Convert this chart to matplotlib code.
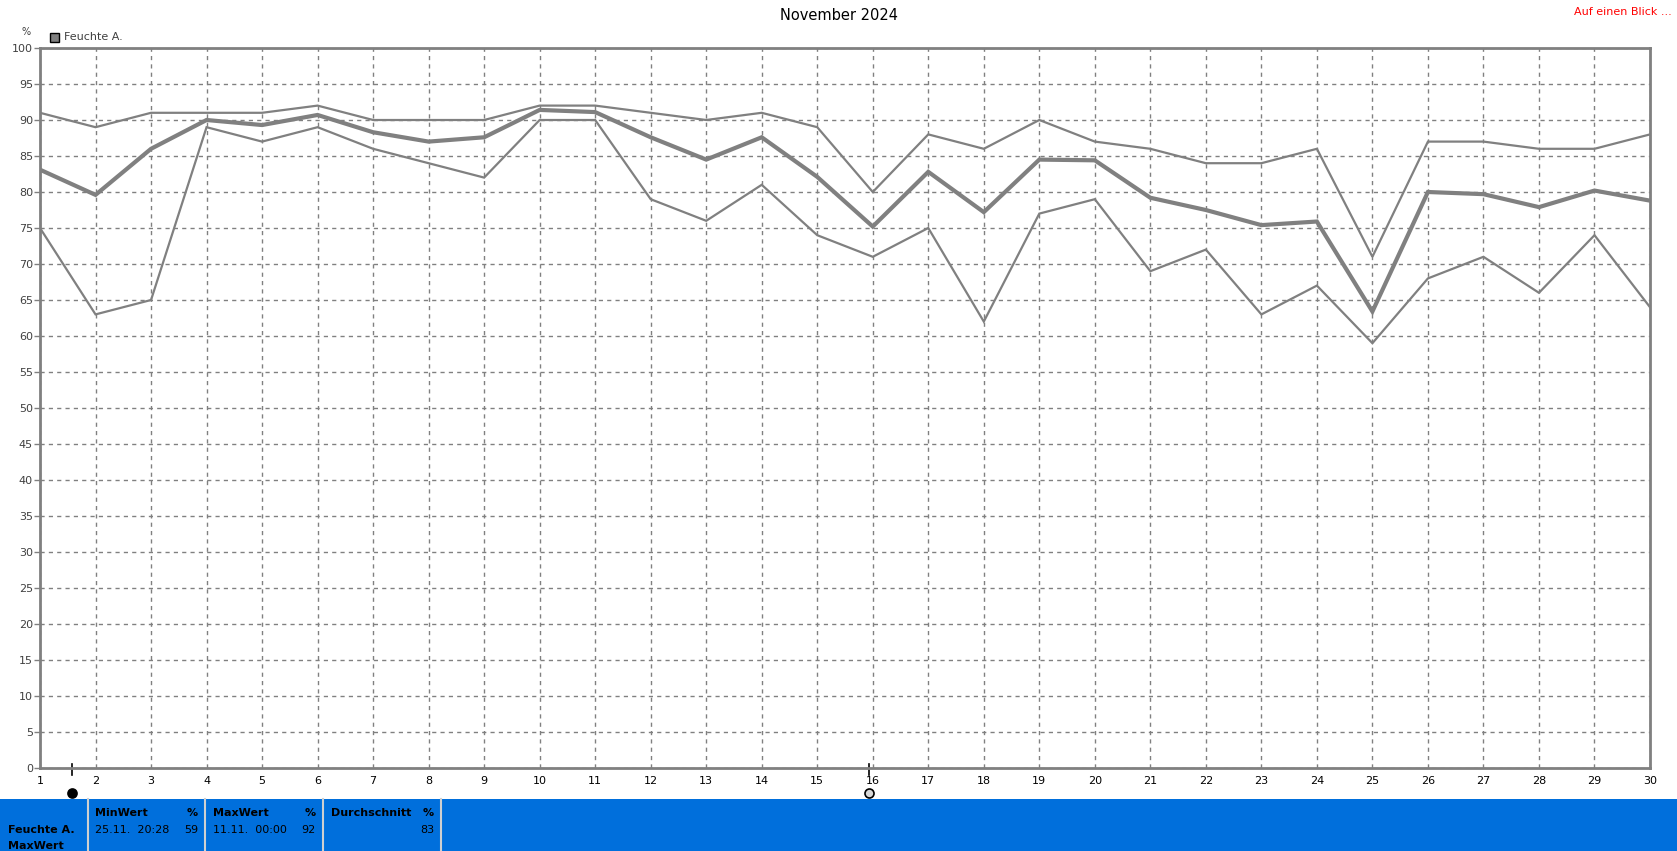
import matplotlib
matplotlib.use('Agg')
import matplotlib.pyplot as plt
from matplotlib.patches import Rectangle
from matplotlib.lines import Line2D

# Tage im November 2024
days = list(range(1, 31))
# Tageshoechstwerte der Feuchte (%)
hum_max = [91, 89, 91, 91, 91, 92, 90, 90, 90, 92, 92, 91, 90, 91, 89,
           80, 88, 86, 90, 87, 86, 84, 84, 86, 71, 87, 87, 86, 86, 88]
# Tagesmittel
hum_mean = [83.1, 79.6, 86.0, 90.0, 89.3, 90.7, 88.3, 87.0, 87.6, 91.4,
            91.1, 87.6, 84.5, 87.6, 82.1, 75.2, 82.8, 77.2, 84.5, 84.4,
            79.2, 77.5, 75.4, 75.9, 63.4, 80.0, 79.7, 77.9, 80.2, 78.8]
# Tagestiefstwerte
hum_min = [75, 63, 65, 89, 87, 89, 86, 84, 82, 90, 90, 79, 76, 81, 74,
           71, 75, 62, 77, 79, 69, 72, 63, 67, 59, 68, 71, 66, 74, 64]

y_ticks = list(range(0, 101, 5))
moon_pos = [1.57, 15.94]          # Neumond / Vollmond
moon_filled = [True, False]

# Tabelle unten
table_heads = ['MinWert', 'MaxWert', 'Durchschnitt']
table_times = ['25.11.  20:28', '11.11.  00:00', '']
table_vals = ['59', '92', '83']

W, H = 1677, 851
GRAY = '#808080'
BLUE = '#006fdc'
FONT = 'DejaVu Sans'


def fx(px):
    return px / W


def fy(py):
    return 1 - py / H


fig = plt.figure(figsize=(W / 100, H / 100), dpi=100)
ax = fig.add_axes([fx(40), fy(768), fx(1650) - fx(40), fy(48) - fy(768)])

ax.plot(days, hum_max, color=GRAY, lw=1.6, solid_joinstyle='miter')
ax.plot(days, hum_min, color=GRAY, lw=1.6, solid_joinstyle='miter')
ax.plot(days, hum_mean, color=GRAY, lw=3.0, solid_joinstyle='miter')

ax.set_xlim(1, 30)
ax.set_ylim(0, 100)
ax.set_xticks(days)
ax.set_yticks(y_ticks)
ax.grid(True, color=GRAY, ls=(0, (3, 3)), lw=1)
ax.tick_params(axis='x', length=0, pad=6, labelsize=8, colors='black')
ax.tick_params(axis='y', length=4, width=1, color=GRAY, pad=1,
               labelsize=8, labelcolor='#404040')
for s in ax.spines.values():
    s.set_color(GRAY)
    s.set_linewidth(2)

# Mondphasen unter der Achse
for mx, filled in zip(moon_pos, moon_filled):
    ax.plot([mx, mx], [0.55, -1.0], color='black', lw=1.2, clip_on=False)
    ax.plot(mx, -3.5, marker='o', ms=6.5, clip_on=False, zorder=5,
            mfc='black' if filled else '#d8d8d8', mec='black', mew=1.2)

fig.text(0.5, fy(15), 'November 2024', ha='center', va='center',
         fontsize=10.5, family=FONT)
fig.text(fx(1672), fy(12), 'Auf einen Blick ...', ha='right', va='center',
         fontsize=8, color='red', family=FONT)
fig.text(fx(26), fy(32), '%', ha='center', va='center', fontsize=7,
         color='#404040', family=FONT)
fig.patches.append(Rectangle((fx(50), fy(42)), fx(9), 9 / H,
                             transform=fig.transFigure, facecolor=GRAY,
                             edgecolor='black', lw=1))
fig.text(fx(64), fy(37), 'Feuchte A.', ha='left', va='center',
         fontsize=8, color='#404040', family=FONT)

# blaues Feld unten
fig.patches.append(Rectangle((0, 0), 1, fy(799), transform=fig.transFigure,
                             facecolor=BLUE, edgecolor='none'))
for sx in [87.7, 204.7, 322.7, 441]:
    fig.add_artist(Line2D([fx(sx), fx(sx)], [0, fy(799)], color='#d0d0d0',
                          lw=1.5, transform=fig.transFigure))

fig.text(fx(8), fy(830), 'Feuchte A.', ha='left', va='center', fontsize=8,
         weight='bold', family=FONT)
fig.text(fx(8), fy(846), 'MaxWert', ha='left', va='center', fontsize=8,
         weight='bold', family=FONT)
cell_left = [95, 212.7, 330.7]
cell_right = [198, 316, 434]
for head, tm, val, xl, xr in zip(table_heads, table_times, table_vals,
                                 cell_left, cell_right):
    fig.text(fx(xl), fy(813), head, ha='left', va='center', fontsize=8,
             weight='bold', family=FONT)
    fig.text(fx(xr), fy(813), '%', ha='right', va='center', fontsize=8,
             weight='bold', family=FONT)
    fig.text(fx(xl), fy(830), tm, ha='left', va='center', fontsize=8,
             family=FONT)
    fig.text(fx(xr), fy(830), val, ha='right', va='center', fontsize=8,
             family=FONT)

fig.savefig('out.png', dpi=100)
